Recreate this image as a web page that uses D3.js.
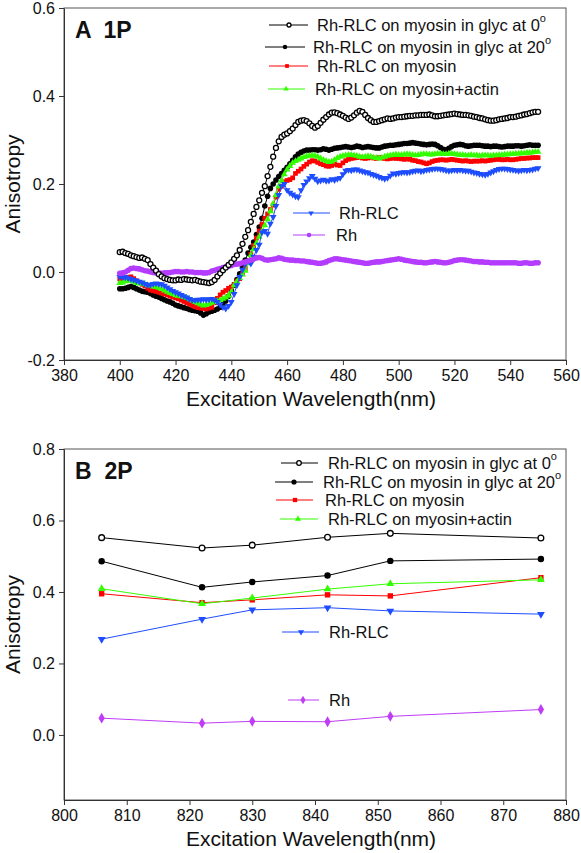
<!DOCTYPE html>
<html><head><meta charset="utf-8">
<script src="https://cdn.jsdelivr.net/npm/d3@7"></script>
<style>body{margin:0;background:#fff} svg{display:block} text{font-family:"Liberation Sans",Arial,sans-serif;fill:#111}</style>
</head><body><svg id="c" width="581" height="853"></svg>
<script>
// ---------- Panel A data (1P, 400-550 nm, 1 nm steps) ----------
const wlA = d3.range(400, 551);
const aGlyc0 = [
0.045,0.046,0.043,0.041,0.038,0.036,0.034,0.032,0.033,0.030,
0.027,0.018,0.010,0.003,-0.005,-0.010,-0.014,-0.016,-0.018,-0.019,
-0.019,-0.017,-0.018,-0.016,-0.017,-0.018,-0.019,-0.018,-0.020,-0.022,
-0.023,-0.024,-0.025,-0.023,-0.018,-0.010,-0.003,0.004,0.010,0.016,
0.022,0.030,0.038,0.050,0.064,0.080,0.095,0.114,0.132,0.148,
0.163,0.180,0.195,0.218,0.239,0.262,0.282,0.297,0.307,0.312,
0.315,0.320,0.326,0.334,0.341,0.344,0.345,0.343,0.338,0.332,
0.328,0.332,0.339,0.346,0.352,0.358,0.362,0.363,0.361,0.358,
0.355,0.351,0.348,0.351,0.356,0.362,0.366,0.364,0.357,0.350,
0.345,0.341,0.341,0.343,0.345,0.347,0.349,0.348,0.349,0.351,
0.352,0.352,0.353,0.354,0.355,0.355,0.356,0.356,0.357,0.357,
0.357,0.358,0.356,0.354,0.354,0.355,0.356,0.357,0.358,0.359,
0.360,0.359,0.358,0.357,0.357,0.356,0.355,0.353,0.352,0.350,
0.349,0.347,0.345,0.344,0.344,0.345,0.347,0.348,0.349,0.350,
0.352,0.352,0.353,0.355,0.356,0.358,0.359,0.361,0.363,0.364,
0.364];
const aGlyc20 = [
-0.038,-0.038,-0.037,-0.035,-0.033,-0.035,-0.038,-0.041,-0.044,-0.045,
-0.046,-0.049,-0.052,-0.055,-0.057,-0.060,-0.063,-0.066,-0.068,-0.071,
-0.075,-0.077,-0.079,-0.081,-0.083,-0.085,-0.087,-0.088,-0.089,-0.093,
-0.098,-0.095,-0.091,-0.089,-0.087,-0.084,-0.080,-0.074,-0.066,-0.055,
-0.043,-0.030,-0.017,-0.004,0.012,0.027,0.043,0.056,0.068,0.085,
0.102,0.122,0.150,0.172,0.190,0.200,0.209,0.217,0.224,0.231,
0.238,0.246,0.254,0.262,0.268,0.272,0.275,0.277,0.277,0.278,
0.278,0.277,0.278,0.280,0.279,0.277,0.279,0.281,0.282,0.283,
0.284,0.285,0.284,0.283,0.284,0.286,0.285,0.283,0.284,0.285,
0.284,0.283,0.282,0.282,0.284,0.286,0.287,0.288,0.288,0.289,
0.290,0.291,0.292,0.292,0.293,0.294,0.293,0.292,0.291,0.290,
0.289,0.290,0.291,0.290,0.287,0.283,0.279,0.278,0.281,0.285,
0.288,0.289,0.290,0.289,0.287,0.286,0.287,0.288,0.288,0.288,
0.287,0.286,0.286,0.285,0.286,0.286,0.285,0.284,0.285,0.286,
0.286,0.286,0.287,0.287,0.286,0.287,0.288,0.289,0.288,0.288,
0.288];
const aMyosin = [
-0.016,-0.015,-0.014,-0.012,-0.011,-0.015,-0.020,-0.024,-0.028,-0.032,
-0.037,-0.041,-0.043,-0.044,-0.046,-0.048,-0.050,-0.052,-0.055,-0.057,
-0.059,-0.061,-0.064,-0.067,-0.070,-0.073,-0.076,-0.079,-0.081,-0.082,
-0.083,-0.084,-0.082,-0.080,-0.070,-0.060,-0.052,-0.046,-0.042,-0.037,
-0.034,-0.028,-0.021,-0.015,-0.004,0.008,0.022,0.040,0.060,0.077,
0.093,0.108,0.122,0.132,0.142,0.152,0.170,0.188,0.195,0.205,
0.208,0.210,0.214,0.224,0.229,0.234,0.240,0.245,0.250,0.253,
0.252,0.249,0.246,0.244,0.241,0.240,0.242,0.245,0.243,0.242,
0.248,0.253,0.256,0.258,0.259,0.260,0.261,0.259,0.258,0.259,
0.260,0.259,0.258,0.260,0.259,0.258,0.257,0.258,0.259,0.258,
0.258,0.257,0.256,0.257,0.256,0.254,0.253,0.251,0.250,0.248,
0.246,0.248,0.251,0.253,0.254,0.255,0.255,0.254,0.255,0.256,
0.255,0.254,0.253,0.252,0.253,0.252,0.251,0.252,0.252,0.252,
0.253,0.252,0.253,0.254,0.255,0.256,0.256,0.255,0.255,0.256,
0.255,0.255,0.256,0.257,0.258,0.258,0.259,0.259,0.260,0.260,
0.260];
const aActin = [
-0.025,-0.024,-0.021,-0.019,-0.020,-0.022,-0.025,-0.026,-0.027,-0.028,
-0.030,-0.031,-0.033,-0.034,-0.036,-0.039,-0.042,-0.045,-0.048,-0.050,
-0.053,-0.054,-0.055,-0.057,-0.059,-0.062,-0.065,-0.068,-0.071,-0.074,
-0.076,-0.075,-0.072,-0.070,-0.068,-0.066,-0.064,-0.061,-0.058,-0.054,
-0.045,-0.030,-0.022,-0.014,-0.006,0.003,0.020,0.038,0.052,0.066,
0.080,0.092,0.106,0.120,0.138,0.155,0.175,0.195,0.208,0.222,
0.233,0.241,0.248,0.252,0.255,0.258,0.261,0.263,0.264,0.265,
0.264,0.262,0.258,0.255,0.252,0.250,0.251,0.255,0.259,0.262,
0.264,0.265,0.266,0.266,0.265,0.264,0.262,0.261,0.262,0.263,
0.262,0.260,0.259,0.258,0.260,0.262,0.264,0.265,0.266,0.267,
0.266,0.266,0.267,0.268,0.267,0.266,0.265,0.266,0.267,0.268,
0.268,0.267,0.267,0.268,0.269,0.269,0.268,0.268,0.269,0.269,
0.268,0.267,0.266,0.266,0.265,0.265,0.266,0.265,0.265,0.264,
0.265,0.265,0.265,0.264,0.265,0.265,0.266,0.266,0.267,0.267,
0.268,0.268,0.269,0.269,0.270,0.270,0.271,0.271,0.272,0.273,
0.273];
const aRLC = [
-0.011,-0.011,-0.012,-0.014,-0.016,-0.018,-0.020,-0.022,-0.024,-0.027,
-0.030,-0.029,-0.027,-0.026,-0.027,-0.028,-0.031,-0.035,-0.039,-0.043,
-0.046,-0.049,-0.052,-0.055,-0.058,-0.061,-0.064,-0.064,-0.063,-0.063,
-0.062,-0.063,-0.062,-0.061,-0.064,-0.068,-0.074,-0.080,-0.083,-0.077,
-0.068,-0.050,-0.030,-0.011,0.005,0.018,0.025,0.019,0.035,0.050,
0.062,0.090,0.093,0.087,0.110,0.125,0.150,0.175,0.195,0.200,
0.186,0.180,0.176,0.172,0.170,0.186,0.198,0.206,0.213,0.218,
0.212,0.206,0.208,0.210,0.207,0.208,0.211,0.209,0.212,0.214,
0.222,0.230,0.232,0.231,0.233,0.233,0.231,0.229,0.227,0.226,
0.223,0.221,0.219,0.216,0.214,0.212,0.214,0.219,0.224,0.223,
0.225,0.226,0.227,0.226,0.227,0.229,0.230,0.231,0.229,0.230,
0.232,0.233,0.234,0.235,0.235,0.234,0.233,0.231,0.230,0.231,
0.232,0.231,0.232,0.231,0.230,0.230,0.228,0.226,0.225,0.223,
0.222,0.221,0.223,0.226,0.229,0.232,0.234,0.235,0.235,0.234,
0.233,0.232,0.231,0.230,0.231,0.232,0.231,0.232,0.233,0.235,
0.236];
const aRh = [
-0.003,-0.002,0.000,0.004,0.008,0.009,0.008,0.007,0.005,0.003,
0.002,0.000,-0.001,-0.002,-0.002,-0.003,-0.002,-0.002,-0.001,0.000,
0.001,0.001,0.000,0.000,0.001,0.000,0.000,-0.001,-0.001,-0.001,
-0.002,-0.002,-0.001,0.002,0.004,0.006,0.008,0.010,0.012,0.013,
0.015,0.017,0.018,0.019,0.021,0.023,0.025,0.027,0.029,0.032,
0.033,0.031,0.028,0.027,0.028,0.029,0.030,0.032,0.031,0.029,
0.028,0.027,0.027,0.026,0.026,0.025,0.025,0.024,0.023,0.022,
0.021,0.020,0.020,0.021,0.023,0.026,0.028,0.030,0.030,0.029,
0.028,0.027,0.026,0.025,0.024,0.023,0.022,0.021,0.020,0.020,
0.021,0.022,0.023,0.023,0.024,0.025,0.026,0.027,0.028,0.029,
0.030,0.029,0.027,0.026,0.025,0.024,0.023,0.022,0.022,0.021,
0.021,0.022,0.023,0.024,0.023,0.022,0.021,0.021,0.022,0.024,
0.026,0.027,0.028,0.028,0.027,0.026,0.025,0.024,0.024,0.023,
0.023,0.022,0.022,0.021,0.021,0.021,0.021,0.021,0.021,0.021,
0.021,0.021,0.021,0.020,0.020,0.021,0.021,0.020,0.020,0.021,
0.021];

// ---------- Panel B data (2P) ----------
const wlB = [806, 822, 830, 842, 852, 876];
const bGlyc0  = [0.552, 0.523, 0.531, 0.553, 0.564, 0.551];
const bGlyc20 = [0.486, 0.413, 0.428, 0.446, 0.487, 0.492];
const bMyosin = [0.395, 0.370, 0.378, 0.392, 0.389, 0.440];
const bActin  = [0.409, 0.367, 0.383, 0.408, 0.423, 0.434];
const bRLC    = [0.268, 0.324, 0.350, 0.356, 0.347, 0.338];
const bRh     = [0.047, 0.033, 0.038, 0.037, 0.052, 0.071];

// ---------- labels / ticks ----------
const seriesNames = ["Rh-RLC on myosin in glyc at 0", "Rh-RLC on myosin in glyc at 20",
  "Rh-RLC on myosin", "Rh-RLC on myosin+actin", "Rh-RLC", "Rh"];
const ticksAX = [380, 400, 420, 440, 460, 480, 500, 520, 540, 560];
const ticksAY = [-0.2, 0.0, 0.2, 0.4, 0.6];
const ticksBX = [800, 810, 820, 830, 840, 850, 860, 870, 880];
const ticksBY = [0.0, 0.2, 0.4, 0.6, 0.8];

const svg = d3.select("#c");
const FONT = '"Liberation Sans", Arial, sans-serif';

function marker(g, type, x, y, color, scale) {
  const s = scale;
  if (type === "openCircle") {
    g.append("circle").attr("cx", x).attr("cy", y).attr("r", 2.5 * s)
      .attr("fill", "#fff").attr("stroke", color).attr("stroke-width", 1.3);
  } else if (type === "circle") {
    g.append("circle").attr("cx", x).attr("cy", y).attr("r", 2.8 * s).attr("fill", color);
  } else if (type === "square") {
    g.append("path").attr("d", d3.symbol(d3.symbolSquare, 22 * s * s)())
      .attr("transform", `translate(${x},${y})`).attr("fill", color);
  } else if (type === "triUp") {
    g.append("path").attr("d", d3.symbol(d3.symbolTriangle, 20 * s * s)())
      .attr("transform", `translate(${x},${y})`).attr("fill", color);
  } else if (type === "triDown") {
    g.append("path").attr("d", d3.symbol(d3.symbolTriangle, 20 * s * s)())
      .attr("transform", `translate(${x},${y}) rotate(180)`).attr("fill", color);
  } else if (type === "diamond") {
    g.append("path").attr("d", d3.symbol(d3.symbolDiamond, 26 * s * s)())
      .attr("transform", `translate(${x},${y})`).attr("fill", color);
  }
}

function panel(cfg) {
  const { box, xDom, yDom, xTicks, yTicks, xs, series, label, legend, mScale } = cfg;
  const x = d3.scaleLinear().domain(xDom).range([box.l, box.r]);
  const y = d3.scaleLinear().domain(yDom).range([box.b, box.t]);
  const g = svg.append("g");

  // frame
  g.append("rect").attr("x", box.l).attr("y", box.t)
    .attr("width", box.r - box.l).attr("height", box.b - box.t)
    .attr("fill", "none").attr("stroke", "#555").attr("stroke-width", 1);

  const xa = g.append("g").attr("transform", `translate(0,${box.b})`)
    .call(d3.axisBottom(x).tickValues(xTicks).tickSize(5).tickSizeOuter(0).tickFormat(d3.format("d")));
  const ya = g.append("g").attr("transform", `translate(${box.l},0)`)
    .call(d3.axisLeft(y).tickValues(yTicks).tickSize(5).tickSizeOuter(0).tickFormat(d => d.toFixed(1)));
  [xa, ya].forEach(a => {
    a.select(".domain").attr("stroke", "#333");
    a.selectAll(".tick line").attr("stroke", "#333");
    a.selectAll(".tick text").attr("font-family", FONT).attr("font-size", 16).attr("fill", "#111");
  });
  xa.selectAll(".tick text").attr("dy", "0.95em").attr("y", 6);
  ya.selectAll(".tick text").attr("x", -9);

  // axis titles
  g.append("text").attr("x", (box.l + box.r) / 2 - 4).attr("y", box.b + 46)
    .attr("text-anchor", "middle").attr("font-size", 21).text("Excitation Wavelength(nm)");
  g.append("text").attr("transform", `translate(20,${(box.t + box.b) / 2}) rotate(-90)`)
    .attr("text-anchor", "middle").attr("font-size", 21).text("Anisotropy");

  // panel label
  g.append("text").attr("x", box.l + 11).attr("y", box.t + 30)
    .attr("font-size", 23).attr("font-weight", "bold").attr("xml:space", "preserve").text(label);

  // series
  const clipG = g.append("g");
  series.forEach(s => {
    const line = d3.line().x((d, i) => x(xs[i])).y(d => y(d));
    clipG.append("path").datum(s.values).attr("d", line)
      .attr("fill", "none").attr("stroke", s.color).attr("stroke-width", 1);
    const mg = clipG.append("g");
    s.values.forEach((v, i) => marker(mg, s.marker, x(xs[i]), y(v), s.color, mScale));
  });

  // legend
  legend.forEach((L, k) => {
    const s = series.find(q => q.name === L.name);
    const lg = g.append("g");
    lg.append("line").attr("x1", L.x1).attr("x2", L.x2).attr("y1", L.y).attr("y2", L.y)
      .attr("stroke", s.color).attr("stroke-width", 1);
    marker(lg, s.marker, L.m, L.y, s.color, mScale * 0.8);
    const t = lg.append("text").attr("x", L.tx).attr("y", L.y + 6).attr("font-size", 16.5).text(L.name);
    if (L.deg) t.append("tspan").attr("font-size", 11).attr("dy", -9).text("o");
  });
}

const colA = { g0: "#000", g20: "#000", my: "#ff0000", ac: "#33ff00", rlc: "#1e4dff", rh: "#b33cff" };

panel({
  box: { l: 64, r: 566, t: 8, b: 360 },
  xDom: [380, 560], yDom: [-0.2, 0.6],
  xTicks: ticksAX, yTicks: ticksAY, xs: wlA, label: "A  1P", mScale: 1,
  series: [
    { name: seriesNames[1], values: aGlyc20, color: colA.g20, marker: "circle" },
    { name: seriesNames[2], values: aMyosin, color: colA.my, marker: "square" },
    { name: seriesNames[3], values: aActin, color: colA.ac, marker: "triUp" },
    { name: seriesNames[4], values: aRLC, color: colA.rlc, marker: "triDown" },
    { name: seriesNames[5], values: aRh, color: colA.rh, marker: "circle" },
    { name: seriesNames[0], values: aGlyc0, color: colA.g0, marker: "openCircle" }
  ],
  legend: [
    { name: seriesNames[0], x1: 269, x2: 308, m: 289, tx: 317, y: 25, deg: true },
    { name: seriesNames[1], x1: 265, x2: 305, m: 285, tx: 313, y: 47, deg: true },
    { name: seriesNames[2], x1: 269, x2: 308, m: 287, tx: 317, y: 66 },
    { name: seriesNames[3], x1: 268, x2: 305, m: 286, tx: 315, y: 89 },
    { name: seriesNames[4], x1: 293, x2: 330, m: 311, tx: 339, y: 213 },
    { name: seriesNames[5], x1: 293, x2: 325, m: 309, tx: 336, y: 235 }
  ]
});

const colB = { g0: "#000", g20: "#000", my: "#ff0000", ac: "#33ff00", rlc: "#1e4dff", rh: "#c03cf5" };

panel({
  box: { l: 64, r: 566, t: 449, b: 800 },
  xDom: [800, 880], yDom: [-0.182, 0.8],
  xTicks: ticksBX, yTicks: ticksBY, xs: wlB, label: "B  2P", mScale: 1.15,
  series: [
    { name: seriesNames[0], values: bGlyc0, color: colB.g0, marker: "openCircle" },
    { name: seriesNames[1], values: bGlyc20, color: colB.g20, marker: "circle" },
    { name: seriesNames[2], values: bMyosin, color: colB.my, marker: "square" },
    { name: seriesNames[3], values: bActin, color: colB.ac, marker: "triUp" },
    { name: seriesNames[4], values: bRLC, color: colB.rlc, marker: "triDown" },
    { name: seriesNames[5], values: bRh, color: colB.rh, marker: "diamond" }
  ],
  legend: [
    { name: seriesNames[0], x1: 281, x2: 318, m: 299, tx: 328, y: 463, deg: true },
    { name: seriesNames[1], x1: 275, x2: 313, m: 294, tx: 323, y: 482, deg: true },
    { name: seriesNames[2], x1: 276, x2: 313, m: 295, tx: 325, y: 500 },
    { name: seriesNames[3], x1: 280, x2: 318, m: 298, tx: 328, y: 519 },
    { name: seriesNames[4], x1: 282, x2: 319, m: 301, tx: 329, y: 632 },
    { name: seriesNames[5], x1: 288, x2: 319, m: 303, tx: 329, y: 700 }
  ]
});
</script></body></html>
